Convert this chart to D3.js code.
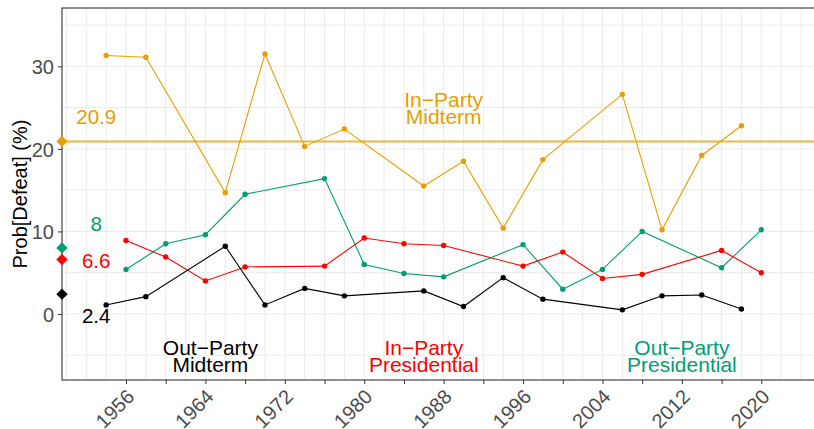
<!DOCTYPE html>
<html lang="en">
<head>
<meta charset="utf-8">
<title>Prob[Defeat] by election type</title>
<script src="https://cdn.jsdelivr.net/npm/d3@7"></script>
<style>
  body { margin: 0; background: #fff; }
  svg { display: block; font-family: "Liberation Sans", Arial, Helvetica, sans-serif; }
  .grid line { stroke: #ebebeb; stroke-width: 1px; }
  .axis text { fill: #4d4d4d; font-size: 20px; }
  .axis line { stroke: #333; }
</style>
</head>
<body>
<svg width="814" height="429"></svg>
<script>
  // midterm years (1962, 1982, 2002 not in the data)
  var midYears = [1954, 1958, 1966, 1970, 1974, 1978, 1986, 1990, 1994, 1998, 2006, 2010, 2014, 2018];
  var inPartyMidterm  = [31.3, 31.1, 14.7, 31.5, 20.3, 22.4, 15.5, 18.5, 10.4, 18.7, 26.6, 10.2, 19.2, 22.8];
  var outPartyMidterm = [1.1, 2.1, 8.2, 1.1, 3.1, 2.2, 2.8, 0.9, 4.4, 1.8, 0.5, 2.2, 2.3, 0.6];

  // presidential years (1972, 1992, 2012 not in the data)
  var presYears = [1956, 1960, 1964, 1968, 1976, 1980, 1984, 1988, 1996, 2000, 2004, 2008, 2016, 2020];
  var inPartyPres  = [8.9, 6.9, 4.0, 5.7, 5.8, 9.2, 8.5, 8.3, 5.8, 7.5, 4.3, 4.8, 7.7, 5.0];
  var outPartyPres = [5.4, 8.5, 9.6, 14.5, 16.4, 6.0, 4.9, 4.5, 8.4, 3.0, 5.4, 10.0, 5.6, 10.2];

  // averages, shown as diamonds on the y axis
  var avgNames  = ["inMid", "outPres", "inPres", "outMid"];
  var avgValues = [20.9, 8, 6.6, 2.4];
  var avgLabels = ["20.9", "8", "6.6", "2.4"];
  var avgLabelYear = 1953;
  var avgLabelY = [23.8, 10.9, 6.4, -0.2];

  var groupNames  = ["In\u2212Party|Midterm", "Out\u2212Party|Midterm", "In\u2212Party|Presidential", "Out\u2212Party|Presidential"];
  var groupLabelX = [1988, 1964.5, 1986, 2012];
  var groupLabelY = [24, -6, -6, -6];

  var colors = { inMid: "#E69F00", outMid: "#000000", inPres: "#FF0000", outPres: "#009E73" };
  var groupColors = [colors.inMid, colors.outMid, colors.inPres, colors.outPres];

  var yTicks = [0, 10, 20, 30];
  var xTicks = d3.range(1956, 2021, 4);

  var svg = d3.select("svg");
  var pLeft = 62, pTop = 8, pBottom = 380, pRight = 834;

  var x = d3.scaleLinear().domain([1956, 2020]).range([126, 761.3]);
  var y = d3.scaleLinear().domain([0, 30]).range([314, 66.3]);

  svg.append("defs").append("clipPath").attr("id", "panel")
    .append("rect").attr("x", pLeft).attr("y", pTop)
    .attr("width", pRight - pLeft).attr("height", pBottom - pTop);

  // grid
  var grid = svg.append("g").attr("class", "grid").attr("clip-path", "url(#panel)");
  grid.selectAll(".h").data(d3.range(-5, 40, 5)).enter().append("line")
    .attr("x1", pLeft).attr("x2", pRight)
    .attr("y1", function(d) { return y(d); }).attr("y2", function(d) { return y(d); });
  grid.selectAll(".v").data(d3.range(1946, 2032, 2)).enter().append("line")
    .attr("y1", pTop).attr("y2", pBottom)
    .attr("x1", function(d) { return x(d); }).attr("x2", function(d) { return x(d); });

  var plot = svg.append("g").attr("clip-path", "url(#panel)");

  // average line for in-party midterm
  plot.append("line")
    .attr("x1", pLeft).attr("x2", pRight)
    .attr("y1", y(avgValues[0])).attr("y2", y(avgValues[0]))
    .attr("stroke", colors.inMid).attr("stroke-opacity", 0.75).attr("stroke-width", 2);

  var series = [
    { key: "inMid",   years: midYears,  values: inPartyMidterm },
    { key: "outPres", years: presYears, values: outPartyPres },
    { key: "inPres",  years: presYears, values: inPartyPres },
    { key: "outMid",  years: midYears,  values: outPartyMidterm }
  ];

  var line = d3.line()
    .x(function(d) { return x(d[0]); })
    .y(function(d) { return y(d[1]); });

  series.forEach(function(s) {
    var pts = d3.zip(s.years, s.values);
    plot.append("path")
      .datum(pts)
      .attr("fill", "none")
      .attr("stroke", colors[s.key])
      .attr("stroke-width", 1.1)
      .attr("d", line);
    plot.selectAll(null).data(pts).enter().append("circle")
      .attr("cx", function(d) { return x(d[0]); })
      .attr("cy", function(d) { return y(d[1]); })
      .attr("r", 2.7)
      .attr("fill", colors[s.key]);
  });

  // group labels
  groupNames.forEach(function(name, i) {
    var parts = name.split("|");
    var t = svg.append("text")
      .attr("text-anchor", "middle")
      .attr("font-size", 21)
      .attr("fill", groupColors[i]);
    t.append("tspan").attr("x", x(groupLabelX[i])).attr("y", y(groupLabelY[i]) - 8.5).text(parts[0]);
    t.append("tspan").attr("x", x(groupLabelX[i])).attr("y", y(groupLabelY[i]) + 8).text(parts[1]);
  });

  // average labels
  svg.selectAll(".avglabel").data(avgLabels).enter().append("text")
    .attr("class", "avglabel")
    .attr("x", x(avgLabelYear))
    .attr("y", function(d, i) { return y(avgLabelY[i]) + 7; })
    .attr("text-anchor", "middle")
    .attr("font-size", 20.5)
    .attr("fill", function(d, i) { return colors[avgNames[i]]; })
    .text(function(d) { return d; });

  // border
  svg.append("rect")
    .attr("x", pLeft).attr("y", pTop)
    .attr("width", pRight - pLeft).attr("height", pBottom - pTop)
    .attr("fill", "none").attr("stroke", "#333").attr("stroke-width", 1.1);

  // axes
  var yAxis = svg.append("g").attr("class", "axis")
    .attr("transform", "translate(" + pLeft + ",0)")
    .call(d3.axisLeft(y).tickValues(yTicks).tickSize(4).tickPadding(4));
  yAxis.select(".domain").remove();
  yAxis.selectAll("text").attr("font-size", 20).attr("dy", "0.36em");

  var xAxis = svg.append("g").attr("class", "axis")
    .attr("transform", "translate(0," + pBottom + ")")
    .call(d3.axisBottom(x).tickValues(xTicks).tickSize(4)
      .tickFormat(function(d) { return (d - 1956) % 8 === 0 ? d : ""; }));
  xAxis.select(".domain").remove();
  xAxis.selectAll("text")
    .attr("font-size", 20)
    .attr("y", 0).attr("dy", 0)
    .attr("text-anchor", "end")
    .attr("transform", "translate(9,18) rotate(-45)");

  // diamonds on the y axis
  svg.selectAll(".avg").data(avgValues).enter().append("path")
    .attr("class", "avg")
    .attr("d", d3.symbol(d3.symbolSquare, 64))
    .attr("transform", function(d) { return "translate(" + pLeft + "," + y(d) + ") rotate(45)"; })
    .attr("fill", function(d, i) { return colors[avgNames[i]]; });

  // y title
  svg.append("text")
    .attr("transform", "translate(27,194) rotate(-90)")
    .attr("text-anchor", "middle")
    .attr("font-size", 20)
    .attr("fill", "#000")
    .text("Prob[Defeat] (%)");
</script>
</body>
</html>
